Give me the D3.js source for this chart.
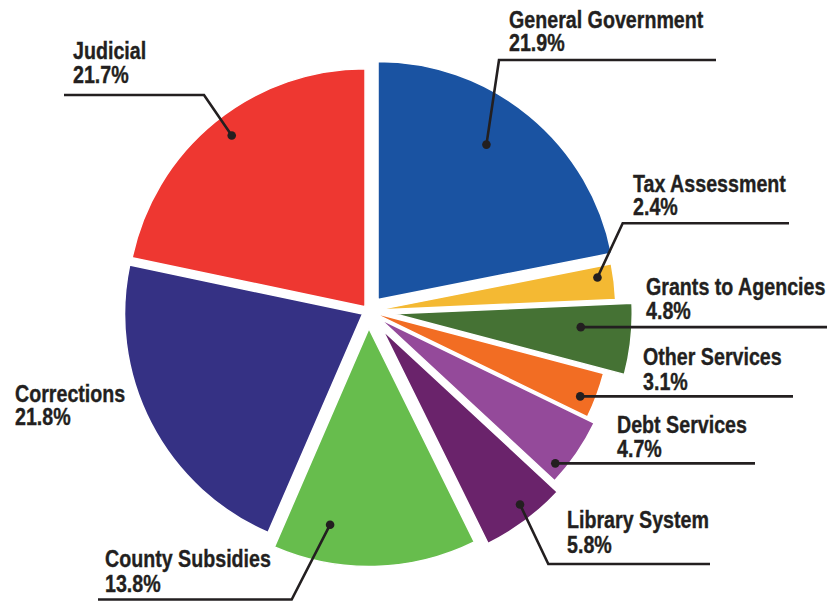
<!DOCTYPE html>
<html>
<head>
<meta charset="utf-8">
<script src="https://cdn.jsdelivr.net/npm/d3@7/dist/d3.min.js"></script>
<style>
  html, body { margin: 0; padding: 0; background: #ffffff; }
  svg { display: block; }
  .lbl { font-family: "Liberation Sans", Arial, Helvetica, sans-serif; font-weight: bold; font-size: 23px;
         fill: #231f20; stroke: #231f20; stroke-width: 0.35px; }
</style>
</head>
<body>
<svg id="chart" width="836" height="601"></svg>
<script>
// Budget shares by function, clockwise from 12 o'clock
const categories = ["General Government", "Tax Assessment", "Grants to Agencies", "Other Services",
                    "Debt Services", "Library System", "County Subsidies", "Corrections", "Judicial"];
const shares = [21.9, 2.4, 4.8, 3.1, 4.7, 5.8, 13.8, 21.8, 21.7];
const shareLabels = ["21.9%", "2.4%", "4.8%", "3.1%", "4.7%", "5.8%", "13.8%", "21.8%", "21.7%"];

// Styling
const colors = ["#1a53a2", "#f4b933", "#457234", "#f26d23", "#944a9a", "#6a236b", "#67bd4d", "#353184", "#ee3731"];
const explode = [15, 9.4, 25.9, 5.3, 14.1, 23.8, 17.5, 6.7, 5.5];

// Label blocks: text origin, line spacing, and leader routing
const labelLayout = [
  { x: 509, y: 27.5,  gap: 24, dot: [35, 189],    route: [[499, 60], [716, 60]] },
  { x: 633, y: 191.5, gap: 23.5, dot: [81.6, 222], route: [[622.7, 223.3], [789, 223.3]] },
  { x: 646, y: 295,   gap: 24.3, dot: [94.1, 187],  route: "h", end: 827 },
  { x: 643, y: 365,   gap: 25, dot: [112, 223],   route: "h", end: 793 },
  { x: 617, y: 432.7, gap: 24, dot: [129.5, 227], route: "h", end: 755 },
  { x: 567, y: 528.3, gap: 24.4, dot: [141.8, 222], route: [[548.3, 564], [710, 564]] },
  { x: 105, y: 566.7, gap: 25, dot: [191.2, 200], route: [[291.7, 599.5], [98, 599.5]] },
  { x: 15,  y: 401.7, gap: 23.5, dot: null },
  { x: 73,  y: 58.5,  gap: 24.8, dot: [322.1, 217], route: [[204, 95], [64, 95]] }
];

const cx = 368.5, cy = 311, R = 238;
const svg = d3.select("#chart");
const g = svg.append("g").attr("transform", `translate(${cx},${cy})`);

const pie = d3.pie().sort(null).value(d => d).startAngle(0).endAngle(2 * Math.PI);
const arcs = pie(shares);
const arc = d3.arc().innerRadius(0).outerRadius(R);

const rad = a => a * Math.PI / 180;
const polar = (a, r) => [r * Math.sin(a), -r * Math.cos(a)];

// Each slice is pulled out along its own bisector
const offsets = arcs.map((a, i) => polar((a.startAngle + a.endAngle) / 2, explode[i]));

g.selectAll("path.slice")
  .data(arcs)
  .join("path")
  .attr("class", "slice")
  .attr("d", arc)
  .attr("transform", (d, i) => `translate(${offsets[i][0]},${offsets[i][1]})`)
  .attr("fill", (d, i) => colors[i])
  .attr("stroke", "#ffffff")
  .attr("stroke-width", 1.5)
  .attr("stroke-linejoin", "round");

// Leader lines and dots
const lines = svg.append("g");
labelLayout.forEach((L, i) => {
  if (!L.dot) return;
  const p = polar(rad(L.dot[0]), L.dot[1]);
  const dx = cx + offsets[i][0] + p[0];
  const dy = cy + offsets[i][1] + p[1];
  let pts;
  if (L.route === "h") pts = [[dx, dy], [L.end, dy]];
  else pts = [[dx, dy]].concat(L.route);
  lines.append("path")
    .attr("d", d3.line()(pts))
    .attr("fill", "none")
    .attr("stroke", "#231f20")
    .attr("stroke-width", 2.6)
    .attr("stroke-linejoin", "miter");
  lines.append("circle")
    .attr("cx", dx).attr("cy", dy).attr("r", 4.3)
    .attr("fill", "#231f20");
});

// Category names with their shares
const texts = svg.append("g");
labelLayout.forEach((L, i) => {
  const t = texts.append("text")
    .attr("class", "lbl")
    .attr("transform", `translate(${L.x},${L.y}) scale(0.855,1)`);
  t.append("tspan").attr("x", 0).attr("y", 0).text(categories[i]);
  t.append("tspan").attr("x", 0).attr("y", L.gap).text(shareLabels[i]);
});
</script>
</body>
</html>
